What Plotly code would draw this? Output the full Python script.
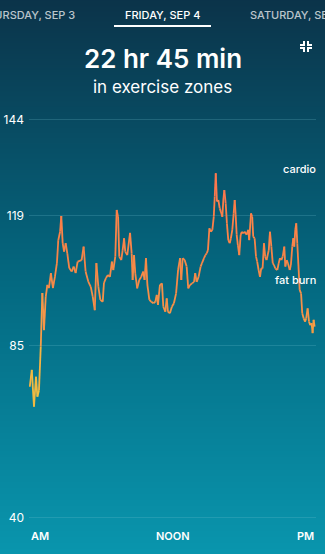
import plotly.graph_objects as go

# ---- data: minutes after midnight, heart rate (bpm)
minutes = [4, 14, 25, 35, 42, 50, 59, 67, 75, 84, 92, 100, 110, 120, 130, 140, 147, 156, 162, 169,
           176, 184, 192, 202, 214, 224, 234, 244, 264, 274, 284, 298, 310, 320, 330, 338, 348, 358,
           370, 376, 386, 396, 406, 416, 423, 433, 440, 447, 453, 463, 470, 477, 483, 493, 507, 515,
           520, 527, 533, 543, 553, 563, 573, 580, 587, 594, 604, 614, 624, 634, 641, 647, 657, 667,
           674, 684, 691, 697, 707, 717, 727, 738, 748, 758, 764, 771, 781, 791, 799, 808, 818, 828,
           834, 841, 851, 861, 868, 878, 885, 892, 898, 905, 912, 920, 927, 932, 937, 943, 950, 957,
           963, 970, 975, 980, 987, 993, 1000, 1007, 1013, 1020, 1027, 1032, 1037, 1042, 1048, 1055,
           1062, 1068, 1075, 1083, 1092, 1100, 1105, 1114, 1120, 1125, 1132, 1139, 1145, 1152, 1159,
           1165, 1172, 1179, 1185, 1192, 1203, 1209, 1216, 1223, 1229, 1236, 1246, 1253, 1259, 1266,
           1273, 1281, 1286, 1293, 1299, 1308, 1314, 1321, 1326, 1331, 1336, 1341, 1346, 1353, 1358,
           1365, 1371, 1378, 1385, 1391, 1398, 1405, 1411, 1418, 1423, 1428, 1433]
heart_rate = [74.3, 78.7, 69.1, 76.9, 71.7, 73.4, 84.8, 98.8, 89.1, 97.8, 100.9, 100.1, 104.0, 100.1,
              103.0, 106.6, 112.6, 114.8, 118.9, 111.8, 109.6, 111.8, 109.2, 105.3, 104.4, 105.7, 104.0,
              107.0, 107.4, 110.9, 104.4, 101.7, 100.4, 97.8, 94.3, 106.6, 100.4, 97.0,
              96.5, 101.4, 102.7, 103.5, 103.0, 107.0, 104.8, 108.3, 120.5, 118.7, 108.3, 107.4, 110.0,
              113.1, 109.6, 108.7, 114.5, 109.2, 102.2, 108.7, 104.0, 100.0, 102.2, 103.0, 104.4, 102.2,
              107.9, 100.9, 97.0, 96.5, 96.1, 96.5, 98.3, 95.7, 100.9, 101.3, 95.2, 93.9, 97.4, 93.9,
              93.5, 95.2, 96.1, 98.7, 104.8, 107.9, 102.2, 107.9, 107.4, 105.7, 100.0, 100.9, 101.3,
              101.7, 104.0, 101.7, 103.0, 105.7, 106.6, 107.9, 108.7, 109.2, 110.0, 115.7, 114.8, 115.3,
              118.7, 124.0, 130.1, 122.7, 123.1, 120.9, 120.0, 118.7, 123.1, 125.7, 122.2, 117.0, 112.6,
              111.8, 113.1, 115.3, 119.6, 123.1, 119.2, 114.0, 111.3, 108.7, 114.0, 114.8, 114.4, 114.8,
              114.0, 115.3, 112.6, 119.6, 118.7, 113.5, 113.1, 108.3, 107.0, 104.8, 103.0, 105.2, 105.2,
              111.8, 108.3, 107.4, 110.0, 114.8, 110.9, 106.6, 106.1, 105.2, 104.8, 106.6, 107.9, 107.4,
              108.3, 110.9, 105.7, 107.4, 106.6, 104.8, 106.1, 110.9, 113.1, 110.9, 115.3, 117.0, 111.8,
              104.8, 99.6, 98.7, 93.5, 92.2, 91.3, 92.2, 94.8, 91.3, 90.4, 90.9, 88.3, 91.8, 90.0]

y_ticks = [40, 85, 119, 144]
x_ticks = [0, 720, 1440]
x_labels = ["AM", "NOON", "PM"]
zone_labels = [("cardio", 131.2), ("fat burn", 102.2)]

W, H = 325, 554
FONT = "Inter"


def py(px):  # pixel y (from top) -> paper y
    return 1 - px / H


def px_x(px):
    return px / W


def lerp(c1, c2, t):
    return tuple(round(a + (b - a) * t) for a, b in zip(c1, c2))


stops = [(68, (242, 196, 64)), (85, (246, 168, 66)), (98, (248, 142, 72)), (125, (249, 122, 76))]


def line_color(v):
    if v <= stops[0][0]:
        return stops[0][1]
    for (v1, c1), (v2, c2) in zip(stops, stops[1:]):
        if v <= v2:
            return lerp(c1, c2, (v - v1) / (v2 - v1))
    return stops[-1][1]


fig = go.Figure()

# background gradient (full-page heatmap on hidden axes)
fig.add_trace(go.Heatmap(
    z=[[0, 0], [0.5, 0.5], [1, 1]], x=[-0.05, 1.05], y=[-0.05, 0.5, 1.05],
    colorscale=[[0, "rgb(10,154,178)"], [0.5, "rgb(4,104,128)"], [1, "rgb(12,46,68)"]],
    zsmooth="best", showscale=False, hoverinfo="skip", xaxis="x", yaxis="y"))

# heart-rate line, drawn in colour bins to imitate the gradient
bins = {}
for i in range(len(minutes) - 1):
    vmid = (heart_rate[i] + heart_rate[i + 1]) / 2
    c = line_color(vmid)
    key = tuple(round(k / 6) * 6 for k in c)
    bins.setdefault(key, ([], []))
    xs, ys = bins[key]
    xs += [minutes[i], minutes[i + 1], None]
    ys += [heart_rate[i], heart_rate[i + 1], None]
for key, (xs, ys) in bins.items():
    fig.add_trace(go.Scatter(
        x=xs, y=ys, mode="lines", xaxis="x2", yaxis="y2",
        line=dict(color="rgb(%d,%d,%d)" % key, width=1.8), hoverinfo="skip",
        showlegend=False, connectgaps=False))

PXU = 398 / 104.0  # pixels per bpm
fig.update_layout(
    template="none",
    width=W, height=H, margin=dict(l=0, r=0, t=0, b=0, pad=0, autoexpand=False),
    paper_bgcolor="rgb(8,90,112)", plot_bgcolor="rgba(0,0,0,0)",
    showlegend=False,
    xaxis=dict(domain=[0, 1], range=[0, 1], visible=False, fixedrange=True, automargin=False),
    yaxis=dict(domain=[0, 1], range=[0, 1], visible=False, fixedrange=True, automargin=False),
    xaxis2=dict(domain=[px_x(29), px_x(316)], range=[0, 1440], anchor="y2", automargin=False,
                showgrid=False, zeroline=False, showticklabels=False, showline=False, ticks=""),
    yaxis2=dict(domain=[py(518 + 2 * PXU), py(120 - 2 * PXU)], range=[38, 146], anchor="x2",
                automargin=False,
                tickvals=y_ticks, ticktext=[str(v) for v in y_ticks],
                showgrid=True, gridcolor="rgba(120,200,215,0.22)", gridwidth=1,
                zeroline=False, showline=False, ticks="",
                tickfont=dict(family=FONT, size=12, color="white"), ticklabelstandoff=4),
)

ann = []
# x labels
for t, lab, anchor in zip(x_ticks, x_labels, ["left", "center", "right"]):
    ann.append(dict(x=t, y=py(536), xref="x2", yref="paper", text=lab, showarrow=False,
                    xanchor=anchor, yanchor="middle",
                    font=dict(family=FONT, size=11, color="white", weight=600)))
# zone labels
for lab, v in zone_labels:
    ann.append(dict(x=1440, y=v, xref="x2", yref="y2", text=lab, showarrow=False,
                    xanchor="right", yanchor="middle", xshift=2,
                    font=dict(family=FONT, size=11, color="white", weight=500)))
# top day tabs
ann += [
    dict(x=px_x(77), y=py(15), xref="paper", yref="paper", text="THURSDAY, SEP 3", showarrow=False,
         xanchor="right", yanchor="middle",
         font=dict(family=FONT, size=11, color="rgba(255,255,255,0.72)", weight=500)),
    dict(x=px_x(162.5), y=py(15), xref="paper", yref="paper", text="FRIDAY, SEP 4", showarrow=False,
         xanchor="center", yanchor="middle",
         font=dict(family=FONT, size=11, color="white", weight=500)),
    dict(x=px_x(248), y=py(15), xref="paper", yref="paper", text="SATURDAY, SEP 5", showarrow=False,
         xanchor="left", yanchor="middle",
         font=dict(family=FONT, size=11, color="rgba(255,255,255,0.72)", weight=500)),
    dict(x=px_x(162.5), y=py(58), xref="paper", yref="paper", text="22 hr 45 min", showarrow=False,
         xanchor="center", yanchor="middle",
         font=dict(family=FONT, size=26, color="white", weight=600)),
    dict(x=px_x(162.5), y=py(87), xref="paper", yref="paper", text="in exercise zones", showarrow=False,
         xanchor="center", yanchor="middle",
         font=dict(family=FONT, size=17, color="white", weight=400)),
]
fig.update_layout(annotations=ann)

# underline of selected tab and collapse icon
shapes = [dict(type="line", xref="paper", yref="paper", x0=px_x(114), x1=px_x(211),
               y0=py(26), y1=py(26), line=dict(color="white", width=2))]
icon = [((300, 45), (304, 45), (304, 41)), ((312, 45), (308, 45), (308, 41)),
        ((300, 48), (304, 48), (304, 52)), ((312, 48), (308, 48), (308, 52))]
for pts in icon:
    path = "M %f %f " % (px_x(pts[0][0]), py(pts[0][1])) + " ".join(
        "L %f %f" % (px_x(a), py(b)) for a, b in pts[1:])
    shapes.append(dict(type="path", xref="paper", yref="paper", path=path,
                       line=dict(color="white", width=2)))
fig.update_layout(shapes=shapes)

fig.write_html("out.html", config={"displayModeBar": False})
